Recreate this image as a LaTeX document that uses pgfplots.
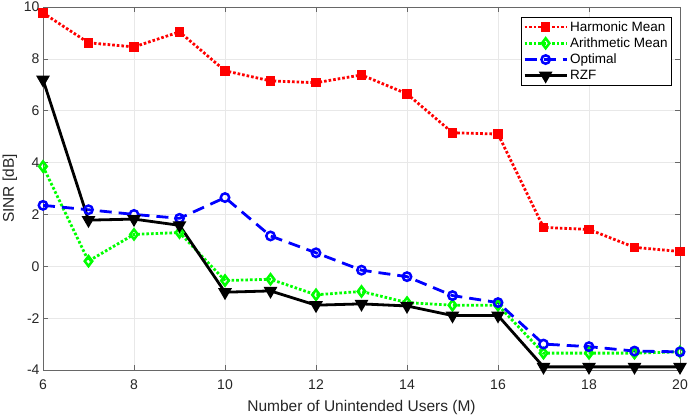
\documentclass[border=0pt]{standalone}
\usepackage{fontspec}
\setmainfont{Liberation Sans}
\usepackage{pgfplots}
\pgfplotsset{compat=1.18}
\definecolor{mred}{rgb}{1,0,0}
\definecolor{mgreen}{rgb}{0,1,0}
\definecolor{mblue}{rgb}{0,0,1}
\definecolor{axgray}{rgb}{0.15,0.15,0.15}
\begin{document}
\begin{tikzpicture}
\begin{axis}[name=ax,
  scale only axis, width=637bp, height=363bp,
  xmin=6, xmax=20, ymin=-4, ymax=10,
  xtick={6,8,...,20}, ytick={-4,-2,...,10},
  grid=major, grid style={gray!18, line width=0.6bp},
  axis line style={axgray!70, line width=0.6bp},
  tick style={axgray!70, line width=0.6bp},
  tick align=inside, major tick length=5bp,
  /pgf/number format/assume math mode=true,
  ticklabel style={font=\fontsize{14bp}{16bp}\selectfont, text=axgray},
  xticklabel style={yshift=-6bp},
  label style={font=\fontsize{15.5bp}{18bp}\selectfont, text=axgray},
  xlabel style={yshift=-4bp},
  xlabel={Number of Unintended Users (M)},
  ylabel={SINR [dB]},
  legend style={at={(rel axis cs:0.9874,0.9725)}, anchor=north east,
    draw=black, line width=0.8bp, fill=white, font=\fontsize{13.5bp}{16bp}\selectfont,
    inner sep=2bp, row sep=1bp},
  legend cell align=left,
  legend image code/.code={\draw[mark repeat=2,mark phase=2,#1] plot coordinates {(0bp,0bp) (21bp,0bp) (42bp,0bp)};},
]
\addplot[mred, line width=2.8bp, dash pattern=on 2.6bp off 2bp, mark=square*, mark size=4bp, mark options={solid, fill=mred, draw=mred, line width=1.5bp}]
coordinates {(6,9.77) (7,8.62) (8,8.46) (9,9.04) (10,7.54) (11,7.15) (12,7.08) (13,7.38) (14,6.65) (15,5.15) (16,5.10) (17,1.50) (18,1.42) (19,0.73) (20,0.57)};
\addlegendentry{Harmonic Mean}
\addplot[mgreen, line width=2.8bp, dash pattern=on 2.6bp off 2bp, mark=diamond, mark size=5bp, mark options={solid, line width=2.5bp}]
coordinates {(6,3.85) (7,0.20) (8,1.23) (9,1.30) (10,-0.55) (11,-0.50) (12,-1.10) (13,-0.97) (14,-1.40) (15,-1.50) (16,-1.50) (17,-3.35) (18,-3.35) (19,-3.35) (20,-3.30)};
\addlegendentry{Arithmetic Mean}
\addplot[mblue, line width=2.8bp, dash pattern=on 12bp off 7bp, mark=o, mark size=4.2bp, mark options={solid, line width=2.5bp}]
coordinates {(6,2.35) (7,2.18) (8,2.00) (9,1.85) (10,2.65) (11,1.17) (12,0.52) (13,-0.15) (14,-0.40) (15,-1.13) (16,-1.40) (17,-3.00) (18,-3.10) (19,-3.27) (20,-3.30)};
\addlegendentry{Optimal}
\addplot[black, line width=2.8bp, mark=triangle*, mark size=5.2bp, mark options={solid, rotate=180, fill=black}]
coordinates {(6,7.20) (7,1.78) (8,1.82) (9,1.58) (10,-1.00) (11,-0.95) (12,-1.50) (13,-1.45) (14,-1.53) (15,-1.90) (16,-1.90) (17,-3.88) (18,-3.88) (19,-3.88) (20,-3.88)};
\addlegendentry{RZF}
\end{axis}
\pgfresetboundingbox
\path[use as bounding box] ([xshift=-43bp,yshift=-48bp]ax.south west) rectangle ([xshift=12bp,yshift=7bp]ax.north east);
\end{tikzpicture}
\end{document}
